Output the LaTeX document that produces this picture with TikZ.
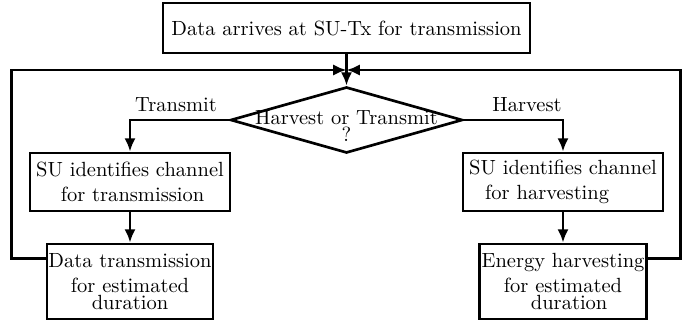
\documentclass[tikz,border=0pt]{standalone}
\usetikzlibrary{shapes.geometric,arrows.meta,calc}
\begin{document}
\begin{tikzpicture}[x=0.4875pt,y=-0.4875pt,
  line width=1.3pt,
  box/.style={draw,rectangle,inner sep=0pt,font=\normalsize},
  decision/.style={draw,diamond,inner sep=0pt},
  arr/.style={-{Latex[length=6.5pt,width=5.5pt]}},
  lbl/.style={inner sep=0pt,anchor=base}]
\path[use as bounding box] (0,0) rectangle (697,326);
% top box
\node[box,minimum width=178.9pt,minimum height=24.4pt] (top) at (346.5,28) {Data arrives at SU-Tx for transmission};
% decision
\node[decision,minimum width=113.1pt,minimum height=32.2pt] (dia) at (346.5,120) {};
\node[inner sep=0pt,align=center] (diatext) at (346.5,126) {Harvest or Transmit\\[-3.7pt]?};
% left branch boxes
\node[box,minimum width=97.5pt,minimum height=28.3pt,align=left] (lb1) at (130,182) {SU identifies channel\\\hspace{12pt}for transmission};
\node[box,minimum width=81pt,minimum height=36.6pt,align=center] (lb2) at (130,281.5) {Data transmission\\for estimated\\[-3.9pt]duration};
% right branch boxes
\node[box,minimum width=97.5pt,minimum height=28.3pt,align=left] (rb1) at (563,182) {SU identifies channel\\\hspace{7.8pt}for harvesting};
\node[box,minimum width=81.4pt,minimum height=36.6pt,align=center] (rb2) at (563,281.5) {Energy harvesting\\for estimated\\[-3.9pt]\hspace{6pt}duration};
% labels
\node[lbl] (ltr) at (176,112) {Transmit};
\node[lbl] (lhv) at (527,112) {Harvest};
% merge point
\coordinate (m) at (346.5,70);
% connectors
\draw[arr] (top.south) -- (dia.north);
\draw[arr] (dia.west) -| (lb1.north);
\draw[arr] (dia.east) -| (rb1.north);
\draw[arr] (lb1.south) -- (lb2.north);
\draw[arr] (rb1.south) -- (rb2.north);
\draw[arr] ($(lb2.north west)+(0,16)$) -- ++(-34,0) |- (m);
\draw[arr] ($(rb2.north east)+(0,16)$) -- ++(33,0) |- (m);
\end{tikzpicture}
\end{document}
